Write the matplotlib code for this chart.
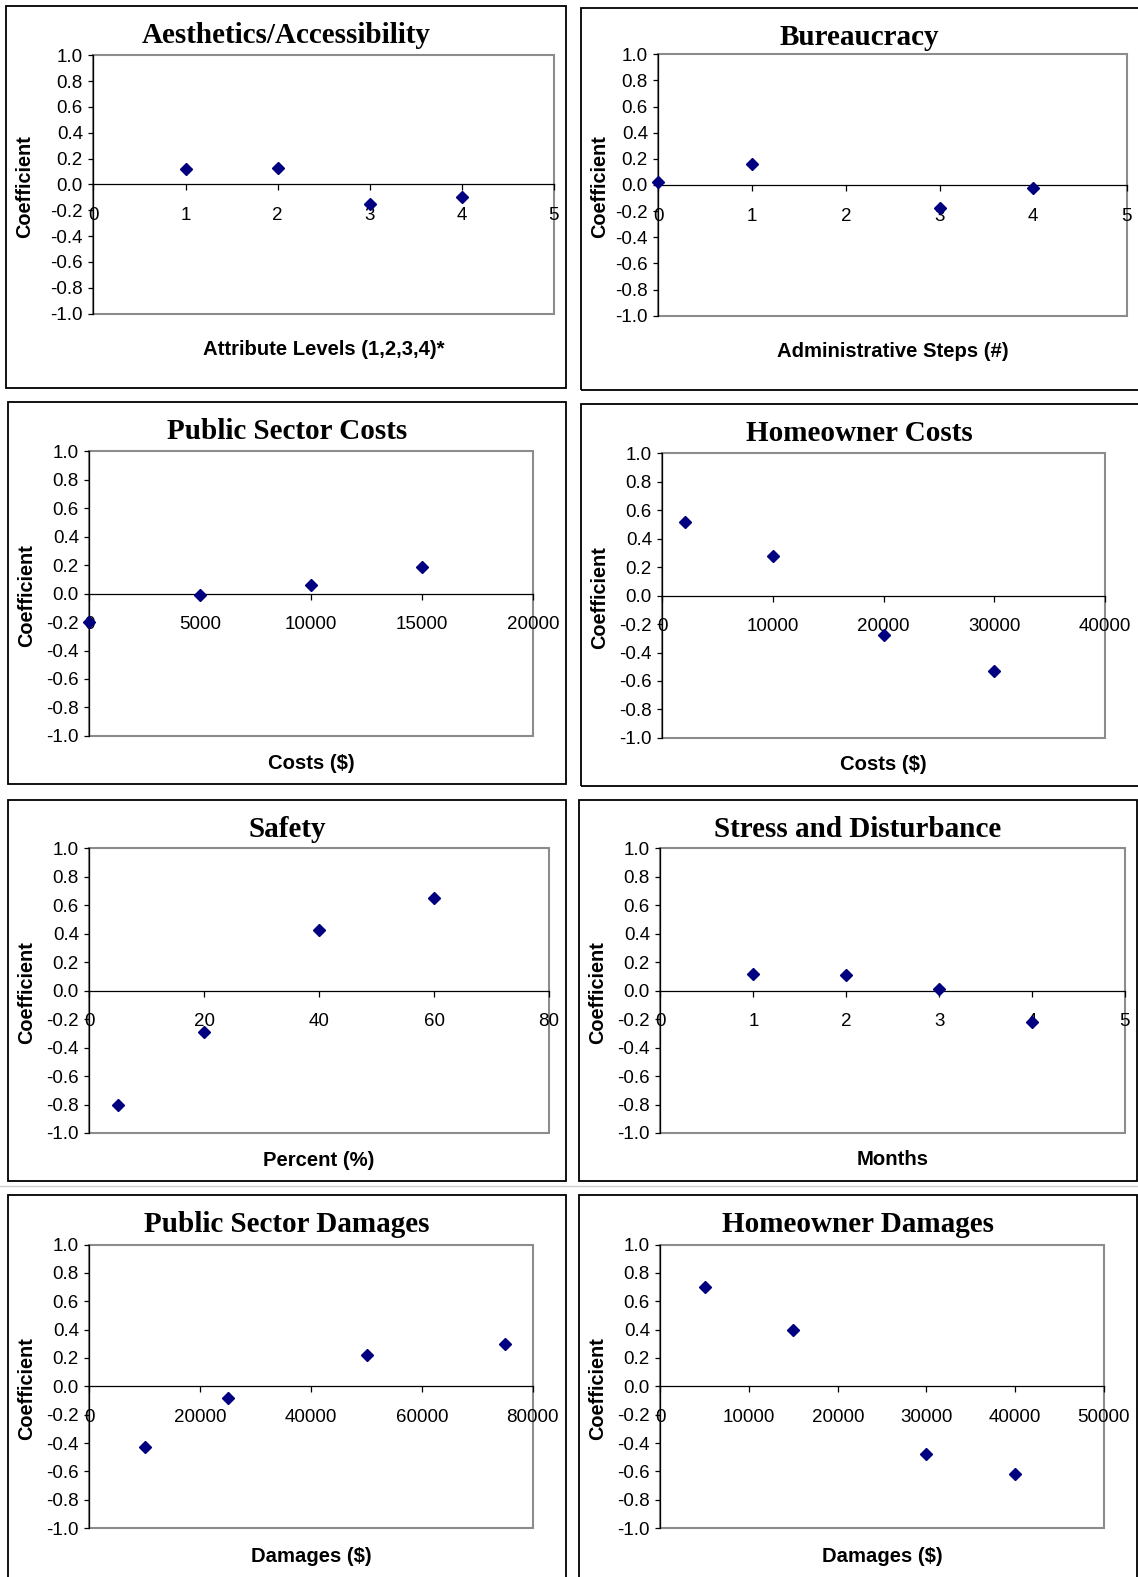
import matplotlib
matplotlib.use('Agg')
import matplotlib.pyplot as plt
from matplotlib.patches import Rectangle
from matplotlib.lines import Line2D
import numpy as np

plt.rcParams['axes.unicode_minus'] = False
plt.rcParams['font.family'] = ['Liberation Sans', 'DejaVu Sans']

# ---------------- data ----------------
titles = ["Aesthetics/Accessibility", "Bureaucracy", "Public Sector Costs", "Homeowner Costs",
          "Safety", "Stress and Disturbance", "Public Sector Damages", "Homeowner Damages"]
xlabels = ["Attribute Levels (1,2,3,4)*", "Administrative Steps (#)", "Costs ($)", "Costs ($)",
           "Percent (%)", "Months", "Damages ($)", "Damages ($)"]
ylabel = "Coefficient"

aes_x = [1, 2, 3, 4]
aes_y = [0.12, 0.13, -0.15, -0.10]
bur_x = [0, 1, 3, 4]
bur_y = [0.02, 0.16, -0.18, -0.02]
psc_x = [0, 5000, 10000, 15000]
psc_y = [-0.20, -0.01, 0.06, 0.19]
hoc_x = [2000, 10000, 20000, 30000]
hoc_y = [0.52, 0.28, -0.28, -0.53]
saf_x = [5, 20, 40, 60]
saf_y = [-0.80, -0.29, 0.43, 0.65]
std_x = [1, 2, 3, 4]
std_y = [0.12, 0.11, 0.01, -0.22]
psd_x = [10000, 25000, 50000, 75000]
psd_y = [-0.43, -0.08, 0.22, 0.30]
hod_x = [5000, 15000, 30000, 40000]
hod_y = [0.70, 0.40, -0.48, -0.62]

series_x = [aes_x, bur_x, psc_x, hoc_x, saf_x, std_x, psd_x, hod_x]
series_y = [aes_y, bur_y, psc_y, hoc_y, saf_y, std_y, psd_y, hod_y]
x_max = [5, 5, 20000, 40000, 80, 5, 80000, 50000]
x_step = [1, 1, 5000, 10000, 20, 1, 20000, 10000]
y_ticks = [-1.0, -0.8, -0.6, -0.4, -0.2, 0.0, 0.2, 0.4, 0.6, 0.8, 1.0]
y_ticklabels = ["-1.0", "-0.8", "-0.6", "-0.4", "-0.2", "0.0", "0.2", "0.4", "0.6", "0.8", "1.0"]

# ---------------- layout (pixel coords of reference) ----------------
W, H = 1138, 1577
S = 1138 / 1132.0

frames = [(6, 6, 563, 386), (578, 8, 1145, 388),
          (8, 400, 563, 780), (578, 402, 1145, 782),
          (8, 796, 563, 1175), (576, 796, 1131, 1175),
          (8, 1189, 563, 1600), (576, 1189, 1131, 1600)]
plots = [(93, 55, 551, 312), (655, 54, 1121, 314),
         (89, 449, 530, 732), (659, 451, 1099, 734),
         (89, 844, 546, 1127), (657, 844, 1119, 1127),
         (89, 1238, 530, 1520), (657, 1238, 1098, 1520)]
xlabel_base = [353, 355, 765, 766, 1160, 1159, 1554, 1554]
ylabel_x = [24, 596, 26, 596, 26, 594, 26, 594]

fig = plt.figure(figsize=(W / 100, H / 100), dpi=100)
fig.patch.set_facecolor('white')

def fx(x):
    return x * S / W

def fy(y):
    return 1 - y * S / H

# light separator line
fig.add_artist(Line2D([0, 1], [fy(1180), fy(1180)], transform=fig.transFigure,
                      color='#cfcfcf', lw=1.0))

for i in range(8):
    fx0, fy0, fx1, fy1 = frames[i]
    fig.add_artist(Rectangle((fx(fx0), fy(fy1)), fx(fx1) - fx(fx0), fy(fy0) - fy(fy1),
                             transform=fig.transFigure, fill=False, ec='black', lw=1.3))
    px0, py0, px1, py1 = plots[i]
    ax = fig.add_axes([fx(px0), fy(py1), fx(px1) - fx(px0), fy(py0) - fy(py1)])
    ax.set_xlim(0, x_max[i])
    ax.set_ylim(-1, 1)
    ax.patch.set_visible(False)

    # plot-area border (gray)
    ax.add_patch(Rectangle((0, 0), 1, 1, transform=ax.transAxes, fill=False,
                           ec='#8c8c8c', lw=1.5, zorder=1, clip_on=False))
    ax.spines['top'].set_visible(False)
    ax.spines['right'].set_visible(False)
    ax.spines['left'].set_color('black')
    ax.spines['left'].set_linewidth(0.9)
    ax.spines['left'].set_zorder(3)
    ax.spines['bottom'].set_position(('data', 0))
    ax.spines['bottom'].set_color('black')
    ax.spines['bottom'].set_linewidth(0.9)

    xt = np.arange(0, x_max[i] + x_step[i] / 2, x_step[i])
    ax.set_xticks(xt)
    ax.set_xticklabels([str(int(v)) for v in xt])
    ax.set_yticks(y_ticks)
    ax.set_yticklabels(y_ticklabels)
    ax.tick_params(axis='y', direction='out', length=3.6, width=0.9, pad=4, labelsize=13.5,
                   colors='black')
    ax.tick_params(axis='x', direction='out', length=4.3, width=0.9, pad=12, labelsize=13.5,
                   colors='black')

    ax.plot(series_x[i], series_y[i], linestyle='none', marker='D', ms=6.6,
            color='#000080', mec='#000080', clip_on=False, zorder=5)

    # title centred on frame
    tcx = (fx0 + 1132) / 2.0 if fx1 > 1138 else (fx0 + fx1) / 2.0
    ax.set_title(titles[i], fontsize=21, fontweight='bold',
                 family=['Liberation Serif', 'DejaVu Serif'],
                 x=(tcx - px0) / (px1 - px0), y=(py1 - (fy0 + 37)) / (py1 - py0),
                 va='baseline', ha='center', pad=0)

    ax.set_xlabel(xlabels[i], fontsize=14.6, fontweight='bold')
    ax.xaxis.label.set_va('baseline')
    ax.xaxis.set_label_coords(0.5, (py1 - xlabel_base[i]) / (py1 - py0))
    ax.set_ylabel(ylabel, fontsize=14.3, fontweight='bold')
    ax.yaxis.label.set_va('center')
    ax.yaxis.set_label_coords((ylabel_x[i] - px0) / (px1 - px0), 0.5 - 2.0 / (py1 - py0))

fig.savefig('out.png', dpi=100, facecolor='white')
